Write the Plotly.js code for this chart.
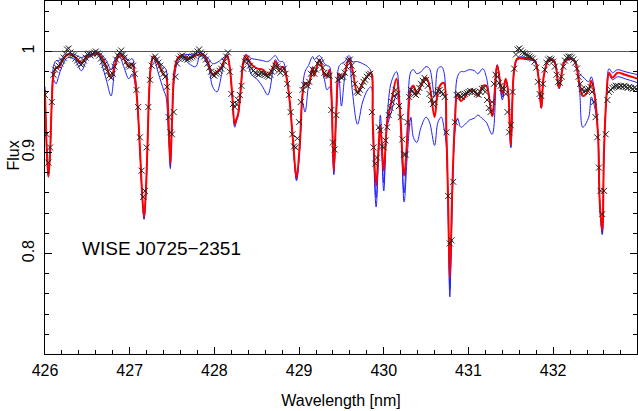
<!DOCTYPE html>
<html>
<head>
<meta charset="utf-8">
<script src="https://cdn.plot.ly/plotly-3.0.1.min.js"></script>
<style>html,body{margin:0;padding:0;background:#fff;}#chart{width:638px;height:411px;}</style>
</head>
<body>
<div id="chart"></div>
<script>
// Model wavelength grid (nm)
const modelWave = [
426.00,426.02,426.04,426.06,426.08,426.10,426.13,426.16,426.20,426.27,
426.35,426.43,426.50,426.56,426.63,426.68,426.73,426.78,426.83,426.88,
426.93,426.99,427.03,427.06,427.09,427.12,427.15,427.17,427.19,427.21,
427.23,427.25,427.28,427.34,427.40,427.43,427.45,427.47,427.48,427.50,
427.53,427.57,427.62,427.70,427.78,427.83,427.88,427.93,427.98,428.03,
428.08,428.12,428.15,428.18,428.21,428.24,428.26,428.28,428.31,428.34,
428.37,428.44,428.51,428.57,428.63,428.69,428.72,428.77,428.81,428.85,
428.89,428.93,428.97,429.01,429.04,429.07,429.11,429.16,429.18,429.24,
429.30,429.33,429.36,429.38,429.41,429.44,429.47,429.50,429.54,429.59,
429.63,429.69,429.75,429.81,429.85,429.87,429.91,429.94,429.96,430.00,
430.04,430.09,430.15,430.19,430.24,430.28,430.32,430.35,430.39,430.44,
430.50,430.54,430.60,430.64,430.68,430.71,430.74,430.76,430.78,430.81,
430.84,430.87,430.91,430.95,431.01,431.07,431.11,431.17,431.21,431.28,
431.34,431.40,431.44,431.47,431.50,431.54,431.58,431.68,431.78,431.82,
431.86,431.89,431.95,432.01,432.07,432.13,432.19,432.25,432.31,432.35,
432.42,432.45,432.49,432.53,432.55,432.58,432.60,432.63,432.66,432.70,
432.76,432.85,433.00];

// Best-fit model (red)
const redFlux = [
0.962,0.905,0.876,0.900,0.950,0.976,0.984,0.984,0.990,0.997,
0.995,0.989,0.995,0.997,0.998,0.993,0.984,0.974,0.988,0.997,
0.993,0.985,0.988,0.975,0.950,0.905,0.855,0.836,0.860,0.907,
0.960,0.985,0.995,0.987,0.977,0.975,0.950,0.905,0.889,0.930,
0.982,0.994,0.996,0.993,0.996,0.997,0.996,0.988,0.977,0.980,
0.984,0.992,0.996,0.985,0.958,0.928,0.933,0.938,0.962,0.988,
0.996,0.987,0.983,0.982,0.977,0.984,0.990,0.982,0.985,0.975,
0.950,0.910,0.875,0.910,0.956,0.969,0.966,0.984,0.976,0.992,
0.977,0.976,0.982,0.963,0.882,0.943,0.978,0.974,0.979,0.993,
0.982,0.959,0.969,0.976,0.979,0.930,0.867,0.907,0.927,0.882,
0.930,0.950,0.973,0.943,0.877,0.917,0.963,0.966,0.958,0.966,
0.974,0.966,0.935,0.961,0.968,0.969,0.917,0.851,0.776,0.867,
0.930,0.958,0.951,0.954,0.961,0.961,0.956,0.966,0.966,0.936,
0.986,0.958,0.973,0.959,0.907,0.982,0.993,0.993,0.991,0.979,
0.944,0.976,0.992,0.991,0.964,0.989,0.993,0.991,0.969,0.956,
0.962,0.971,0.956,0.917,0.851,0.823,0.900,0.956,0.979,0.974,
0.979,0.977,0.973];

// Upper alternative model (blue)
const blueHiFlux = [
0.965,0.905,0.878,0.900,0.950,0.985,0.991,0.991,0.993,0.998,
0.997,0.994,0.997,0.998,0.999,0.996,0.990,0.982,0.993,0.998,
0.997,0.991,0.993,0.980,0.950,0.905,0.853,0.834,0.858,0.907,
0.962,0.987,0.996,0.990,0.985,0.982,0.950,0.903,0.886,0.930,
0.982,0.993,0.997,0.997,0.998,0.999,0.997,0.993,0.988,0.989,
0.992,0.995,0.997,0.985,0.957,0.927,0.932,0.937,0.962,0.990,
0.997,0.993,0.992,0.991,0.990,0.994,0.996,0.990,0.990,0.976,
0.950,0.908,0.873,0.908,0.960,0.980,0.986,0.995,0.992,0.996,
0.988,0.986,0.985,0.963,0.880,0.943,0.985,0.988,0.990,0.996,
0.990,0.990,0.988,0.985,0.980,0.930,0.855,0.907,0.937,0.870,
0.935,0.970,0.980,0.945,0.860,0.930,0.980,0.982,0.978,0.980,
0.985,0.983,0.955,0.983,0.985,0.980,0.915,0.845,0.765,0.860,
0.935,0.975,0.980,0.980,0.982,0.981,0.978,0.983,0.975,0.940,
0.987,0.955,0.972,0.958,0.905,0.982,0.994,0.994,0.992,0.980,
0.944,0.977,0.993,0.992,0.965,0.990,0.994,0.992,0.978,0.975,
0.970,0.975,0.960,0.917,0.850,0.819,0.898,0.956,0.983,0.979,
0.982,0.980,0.977];

// Lower alternative model (blue)
const blueLoFlux = [
0.960,0.903,0.876,0.898,0.948,0.972,0.968,0.975,0.985,0.994,
0.992,0.981,0.993,0.996,0.997,0.985,0.970,0.956,0.985,0.995,
0.985,0.973,0.978,0.970,0.948,0.903,0.852,0.834,0.858,0.905,
0.958,0.983,0.994,0.978,0.962,0.955,0.930,0.900,0.884,0.930,
0.975,0.990,0.994,0.988,0.985,0.996,0.993,0.985,0.965,0.960,
0.975,0.992,0.996,0.984,0.956,0.925,0.931,0.936,0.960,0.985,
0.993,0.977,0.972,0.965,0.957,0.980,0.992,0.985,0.985,0.976,
0.950,0.908,0.872,0.905,0.950,0.940,0.965,0.985,0.980,0.990,
0.972,0.962,0.965,0.955,0.878,0.940,0.975,0.946,0.975,0.993,
0.960,0.928,0.950,0.962,0.965,0.920,0.846,0.900,0.925,0.862,
0.925,0.940,0.957,0.940,0.851,0.900,0.935,0.915,0.910,0.925,
0.935,0.930,0.907,0.930,0.935,0.925,0.905,0.840,0.757,0.855,
0.920,0.934,0.925,0.927,0.932,0.934,0.937,0.933,0.930,0.918,
0.985,0.952,0.972,0.958,0.905,0.980,0.992,0.992,0.990,0.978,
0.944,0.975,0.991,0.990,0.963,0.988,0.992,0.990,0.962,0.925,
0.935,0.955,0.945,0.917,0.850,0.819,0.898,0.956,0.977,0.972,
0.975,0.973,0.969];

// Observed spectrum: uniformly sampled, start and step in nm
const obsStart = 426.00;
const obsStep = 0.02;
const obsFlux = [
0.957,0.918,0.890,0.905,0.950,0.977,0.982,0.984,0.986,0.988,
0.991,0.994,0.998,1.002,1.003,0.999,0.997,0.996,0.993,0.991,
0.989,0.987,0.988,0.991,0.994,0.997,0.998,0.996,0.998,0.999,
1.000,0.998,0.996,0.993,0.990,0.987,0.984,0.980,0.976,0.974,
0.978,0.985,0.992,0.996,0.999,1.001,0.997,0.994,0.990,0.986,
0.985,0.987,0.986,0.978,0.962,0.945,0.915,0.882,0.856,0.862,
0.905,0.945,0.972,0.986,0.993,0.995,0.992,0.989,0.986,0.982,
0.978,0.975,0.965,0.935,0.920,0.918,0.940,0.975,0.988,0.993,
0.995,0.996,0.994,0.993,0.992,0.993,0.994,0.995,0.996,0.998,
1.000,1.002,0.999,0.997,0.995,0.992,0.988,0.984,0.980,0.977,
0.976,0.978,0.979,0.981,0.983,0.986,0.990,0.995,0.999,0.980,
0.958,0.948,0.945,0.948,0.952,0.957,0.966,0.983,0.990,0.993,
0.990,0.986,0.983,0.981,0.979,0.978,0.977,0.978,0.979,0.978,
0.977,0.976,0.975,0.977,0.980,0.983,0.986,0.985,0.981,0.979,
0.981,0.983,0.978,0.968,0.957,0.940,0.918,0.906,0.905,0.914,
0.930,0.950,0.962,0.967,0.968,0.966,0.970,0.978,0.982,0.978,
0.982,0.988,0.991,0.989,0.984,0.979,0.977,0.976,0.976,0.942,
0.910,0.903,0.937,0.972,0.976,0.974,0.975,0.979,0.985,0.991,
0.992,0.986,0.978,0.968,0.960,0.959,0.962,0.966,0.970,0.972,
0.975,0.977,0.978,0.940,0.905,0.889,0.895,0.925,0.922,0.906,
0.905,0.912,0.925,0.937,0.944,0.950,0.956,0.962,0.958,0.946,
0.935,0.913,0.898,0.898,0.930,0.955,0.962,0.961,0.958,0.957,
0.960,0.964,0.968,0.971,0.974,0.972,0.966,0.958,0.952,0.948,
0.950,0.958,0.961,0.962,0.960,0.958,0.955,0.920,0.857,0.810,
0.813,0.871,0.930,0.957,0.958,0.956,0.955,0.957,0.958,0.959,
0.960,0.961,0.960,0.961,0.960,0.958,0.957,0.960,0.963,0.964,
0.960,0.952,0.944,0.940,0.950,0.968,0.977,0.975,0.969,0.966,
0.964,0.963,0.958,0.940,0.920,0.927,0.960,0.983,0.997,1.002,
1.003,1.001,0.999,0.998,0.997,0.996,0.995,0.994,0.993,0.990,
0.984,0.970,0.958,0.956,0.968,0.982,0.989,0.992,0.993,0.992,
0.990,0.985,0.977,0.970,0.969,0.975,0.985,0.991,0.994,0.995,
0.995,0.994,0.992,0.989,0.983,0.975,0.968,0.963,0.960,0.961,
0.962,0.963,0.965,0.960,0.950,0.935,0.915,0.885,0.862,0.839,
0.862,0.918,0.952,0.960,0.962,0.964,0.965,0.966,0.966,0.965,
0.966,0.965,0.966,0.965,0.964,0.965,0.964,0.963,0.964,0.963];

const starLabel = 'WISE J0725\u22122351';
const xTitle = 'Wavelength [nm]';
const yTitle = 'Flux';

const FONT = 'Liberation Sans, Arial, Helvetica, sans-serif';

const traces = [
  {x: modelWave, y: blueHiFlux, mode: 'lines', line: {color: '#2020ff', width: 1, shape: 'spline', smoothing: 1}, hoverinfo: 'skip'},
  {x: modelWave, y: blueLoFlux, mode: 'lines', line: {color: '#2020ff', width: 1, shape: 'spline', smoothing: 1}, hoverinfo: 'skip'},
  {x: modelWave, y: redFlux, mode: 'lines', line: {color: '#ff0000', width: 2, shape: 'spline', smoothing: 1}, hoverinfo: 'skip'},
  {x0: obsStart, dx: obsStep, y: obsFlux, mode: 'markers',
   marker: {symbol: 'x-thin', size: 6, color: '#222', line: {width: 1, color: '#222'}}, hoverinfo: 'skip'}
];

const axisCommon = {
  showline: true, linecolor: '#000', linewidth: 1, mirror: 'allticks',
  ticks: 'inside', tickcolor: '#000', tickwidth: 1, ticklen: 7,
  showgrid: false, zeroline: false,
  tickfont: {family: FONT, size: 16, color: '#000'}
};

const layout = {
  width: 638, height: 411,
  margin: {l: 45, r: 1, t: 1, b: 57},
  paper_bgcolor: '#fff', plot_bgcolor: '#fff',
  showlegend: false,
  font: {family: FONT, color: '#000'},
  xaxis: Object.assign({}, axisCommon, {
    range: [426, 432.99], tick0: 426, dtick: 1, ticklabelstandoff: 2,
    minor: {dtick: 0.2, ticks: 'inside', ticklen: 4, tickcolor: '#000', tickwidth: 1, showgrid: false},
    title: {text: xTitle, font: {family: FONT, size: 16, color: '#000'}, standoff: 16}
  }),
  yaxis: Object.assign({}, axisCommon, {
    range: [0.7005, 1.05], tick0: 0.7, dtick: 0.1, tickangle: -90, ticklabelstandoff: 4,
    minor: {dtick: 0.02, tick0: 0.7, ticks: 'inside', ticklen: 4, tickcolor: '#000', tickwidth: 1, showgrid: false}
  }),
  shapes: [{type: 'line', xref: 'paper', x0: 0, x1: 1, yref: 'y', y0: 1, y1: 1,
            line: {color: '#555', width: 1}, layer: 'below'}],
  annotations: [
    {text: starLabel, x: 426.41, y: 0.805, xref: 'x', yref: 'y',
     xanchor: 'left', yanchor: 'middle', showarrow: false,
     font: {family: FONT, size: 19, color: '#000'}},
    {text: yTitle, x: 0, xref: 'paper', xshift: -31, y: 0.897, yref: 'y',
     xanchor: 'center', yanchor: 'middle', textangle: -90, showarrow: false,
     font: {family: FONT, size: 16, color: '#000'}}
  ]
};

Plotly.newPlot('chart', traces, layout, {staticPlot: true, displayModeBar: false});
</script>
</body>
</html>
